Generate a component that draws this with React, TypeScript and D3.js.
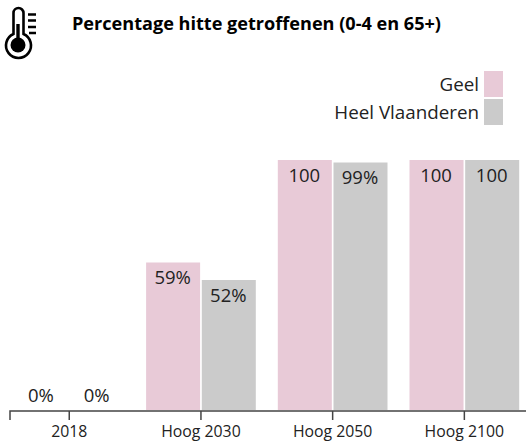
import React from "react";
import * as d3 from "d3";

const categories = ["2018", "Hoog 2030", "Hoog 2050", "Hoog 2100"];
const seriesNames = ["Geel", "Heel Vlaanderen"];
const geelValues = [0, 59, 100, 100];
const vlaanderenValues = [0, 52, 99, 100];
const geelLabels = ["0%", "59%", "100", "100"];
const vlaanderenLabels = ["0%", "52%", "99%", "100"];
const seriesColors = ["#e8cad7", "#cbcbcb"];
const titleText = "Percentage hitte getroffenen (0-4 en 65+)";

const FONT = "'Open Sans', sans-serif";
const TEXT = "#222222";

export default function App() {
  const x = d3.scaleBand<string>().domain(categories).range([3.4, 530.2]);
  const inner = d3.scaleBand<string>().domain(seriesNames).range([0, x.bandwidth() - 22]).paddingInner(0.03);
  const y = d3.scaleLinear().domain([0, 100]).range([410, 160]);
  const values = [geelValues, vlaanderenValues];
  const labels = [geelLabels, vlaanderenLabels];
  const tickCenters = categories.map((c) => x(c)! + x.bandwidth() / 2);

  return (
    <svg width={526} height={443} style={{ position: "absolute", left: 0, top: 0, background: "#fff" }} fontFamily={FONT}>
      {/* thermometer icon */}
      <g fill="none" stroke="#000">
        <path
          d="M13.5 34 V13 A5 5 0 0 1 23.5 13 V34 A12.5 12.5 0 1 1 13.5 34 Z"
          strokeWidth={2.6}
        />
        <circle cx={18} cy={45} r={7.5} fill="#000" stroke="none" />
        <path d="M18 24 V42" strokeWidth={3.4} />
        <path d="M28 14.5 H36 M28 20.5 H36 M28 27 H36 M29 33 H36" strokeWidth={2.6} />
      </g>
      <text x={72} y={30} fontSize={18} fontWeight={700} fill="#000" textLength={369} lengthAdjust="spacingAndGlyphs">{titleText}</text>

      {/* legend */}
      {seriesNames.map((s, i) => (
        <g key={s}>
          <rect x={484} y={71 + i * 28} width={19} height={26} fill={seriesColors[i]} />
          <text x={479} y={91 + i * 28} textAnchor="end" fontSize={18.8} fill={TEXT}>{s}</text>
        </g>
      ))}

      {/* bars */}
      {seriesNames.map((s, si) =>
        categories.map((c, ci) => {
          const bx = x(c)! + 11 + inner(s)!;
          const v = values[si][ci];
          return (
            <g key={s + c}>
              <rect x={bx} y={y(v)} width={inner.bandwidth()} height={y(0) - y(v)} fill={seriesColors[si]} />
              <text
                x={bx + inner.bandwidth() / 2 - 0.5}
                y={y(v) + (v === 0 ? -8 : 21.5)}
                textAnchor="middle"
                fontSize={18.5}
                fill={TEXT}
              >
                {labels[si][ci]}
              </text>
            </g>
          );
        })
      )}

      {/* axis */}
      <path d="M10 420 V411 H526" fill="none" stroke="#444" strokeWidth={1.5} />
      {categories.map((c, i) => (
        <g key={c}>
          <line x1={tickCenters[i]} x2={tickCenters[i]} y1={411} y2={420} stroke="#444" strokeWidth={1.5} />
          <text x={tickCenters[i]} y={437} textAnchor="middle" fontSize={15.8} fill={TEXT}>{c}</text>
        </g>
      ))}
    </svg>
  );
}
